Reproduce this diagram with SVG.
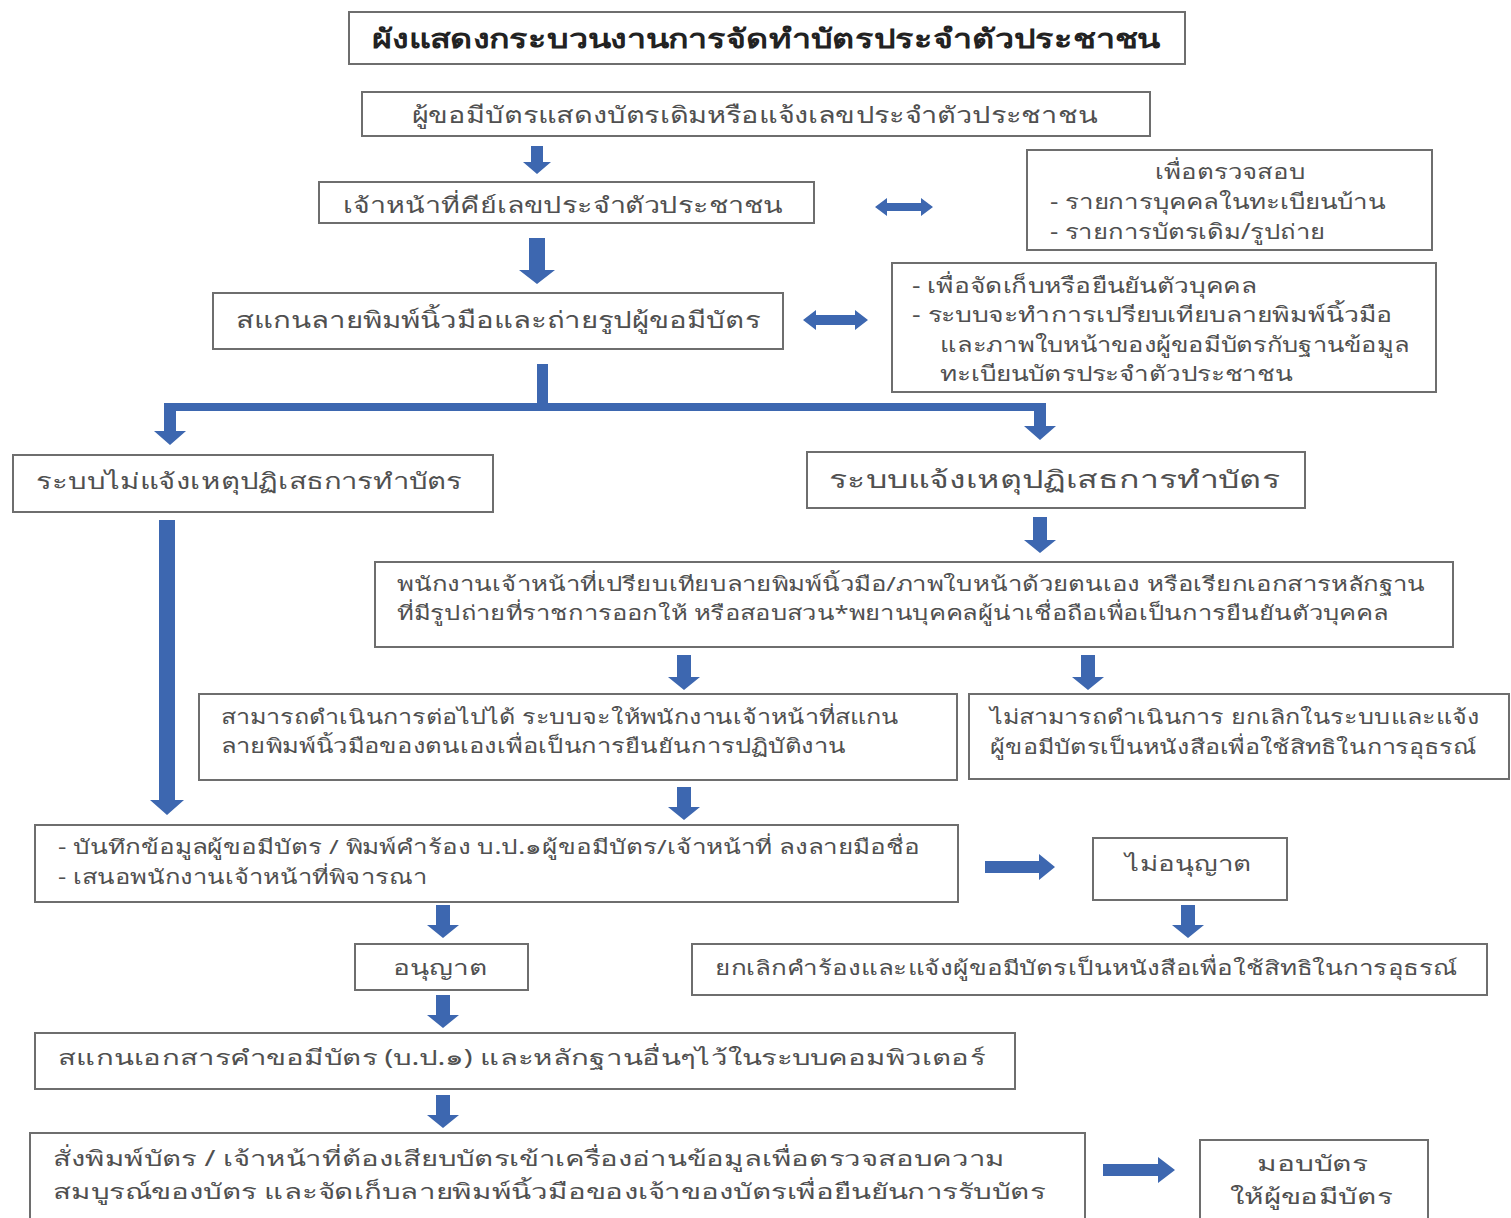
<svg xmlns="http://www.w3.org/2000/svg" width="1511" height="1218" viewBox="0 0 1511 1218">
<style>
.box{fill:#fff;stroke:#6e6e6e;stroke-width:2}
.t{font-family:"Noto Sans","DejaVu Sans",sans-serif;font-size:21px;fill:#505050}
.s{font-size:20px}
.title{font-size:27px;font-weight:bold;fill:#222}
.arr{fill:#3d67b0}
</style>
<rect width="1511" height="1218" fill="#fff"/>
<g id="n-title"><rect class="box" x="349" y="12" width="836" height="52"/><text class="t title" x="372" y="48" textLength="788" lengthAdjust="spacingAndGlyphs">ผังแสดงกระบวนงานการจัดทำบัตรประจำตัวประชาชน</text></g>
<g id="n-show"><rect class="box" x="362" y="92" width="788" height="44"/><text class="t" x="412" y="123" style="font-size:23px" textLength="686" lengthAdjust="spacingAndGlyphs">ผู้ขอมีบัตรแสดงบัตรเดิมหรือแจ้งเลขประจำตัวประชาชน</text></g>
<g id="n-key"><rect class="box" x="319" y="182" width="495" height="41"/><text class="t" x="343" y="213" style="font-size:22px" textLength="440" lengthAdjust="spacingAndGlyphs">เจ้าหน้าที่คีย์เลขประจำตัวประชาชน</text></g>
<g id="n-check"><rect class="box" x="1027" y="150" width="405" height="100"/><text class="t" x="1155" y="179" textLength="150" lengthAdjust="spacingAndGlyphs">เพื่อตรวจสอบ</text><text class="t" x="1050" y="209" textLength="335" lengthAdjust="spacingAndGlyphs">- รายการบุคคลในทะเบียนบ้าน</text><text class="t" x="1050" y="239" textLength="275" lengthAdjust="spacingAndGlyphs">- รายการบัตรเดิม/รูปถ่าย</text></g>
<g id="n-scan"><rect class="box" x="213" y="293" width="570" height="56"/><text class="t" x="236" y="328" style="font-size:23px" textLength="524" lengthAdjust="spacingAndGlyphs">สแกนลายพิมพ์นิ้วมือและถ่ายรูปผู้ขอมีบัตร</text></g>
<g id="n-verify"><rect class="box" x="892" y="263" width="544" height="129"/><text class="t" x="912" y="293" textLength="345" lengthAdjust="spacingAndGlyphs">- เพื่อจัดเก็บหรือยืนยันตัวบุคคล</text><text class="t" x="912" y="322" textLength="481" lengthAdjust="spacingAndGlyphs">- ระบบจะทำการเปรียบเทียบลายพิมพ์นิ้วมือ</text><text class="t" x="940" y="352" textLength="470" lengthAdjust="spacingAndGlyphs">และภาพใบหน้าของผู้ขอมีบัตรกับฐานข้อมูล</text><text class="t" x="940" y="381" textLength="352" lengthAdjust="spacingAndGlyphs">ทะเบียนบัตรประจำตัวประชาชน</text></g>
<g id="n-noreject"><rect class="box" x="13" y="455" width="480" height="57"/><text class="t" x="36" y="489" style="font-size:22px" textLength="426" lengthAdjust="spacingAndGlyphs">ระบบไม่แจ้งเหตุปฏิเสธการทำบัตร</text></g>
<g id="n-reject"><rect class="box" x="807" y="452" width="498" height="56"/><text class="t" x="829" y="488" style="font-size:24px" textLength="451" lengthAdjust="spacingAndGlyphs">ระบบแจ้งเหตุปฏิเสธการทำบัตร</text></g>
<g id="n-manual"><rect class="box" x="375" y="562" width="1078" height="85"/><text class="t s" x="397" y="591" textLength="1028" lengthAdjust="spacingAndGlyphs">พนักงานเจ้าหน้าที่เปรียบเทียบลายพิมพ์นิ้วมือ/ภาพใบหน้าด้วยตนเอง หรือเรียกเอกสารหลักฐาน</text><text class="t s" x="397" y="620" textLength="991" lengthAdjust="spacingAndGlyphs">ที่มีรูปถ่ายที่ราชการออกให้ หรือสอบสวน*พยานบุคคลผู้น่าเชื่อถือเพื่อเป็นการยืนยันตัวบุคคล</text></g>
<g id="n-ok"><rect class="box" x="199" y="694" width="758" height="86"/><text class="t s" x="221" y="724" textLength="678" lengthAdjust="spacingAndGlyphs">สามารถดำเนินการต่อไปได้ ระบบจะให้พนักงานเจ้าหน้าที่สแกน</text><text class="t s" x="221" y="753" textLength="625" lengthAdjust="spacingAndGlyphs">ลายพิมพ์นิ้วมือของตนเองเพื่อเป็นการยืนยันการปฏิบัติงาน</text></g>
<g id="n-fail"><rect class="box" x="969" y="694" width="540" height="85"/><text class="t s" x="990" y="724" textLength="490" lengthAdjust="spacingAndGlyphs">ไม่สามารถดำเนินการ ยกเลิกในระบบและแจ้ง</text><text class="t s" x="990" y="754" textLength="487" lengthAdjust="spacingAndGlyphs">ผู้ขอมีบัตรเป็นหนังสือเพื่อใช้สิทธิในการอุธรณ์</text></g>
<g id="n-record"><rect class="box" x="35" y="825" width="923" height="77"/><text class="t s" x="58" y="854" textLength="862" lengthAdjust="spacingAndGlyphs">- บันทึกข้อมูลผู้ขอมีบัตร / พิมพ์คำร้อง บ.ป.๑ผู้ขอมีบัตร/เจ้าหน้าที่ ลงลายมือชื่อ</text><text class="t s" x="58" y="884" textLength="369" lengthAdjust="spacingAndGlyphs">- เสนอพนักงานเจ้าหน้าที่พิจารณา</text></g>
<g id="n-deny"><rect class="box" x="1093" y="838" width="194" height="62"/><text class="t" x="1125" y="871" textLength="127" lengthAdjust="spacingAndGlyphs">ไม่อนุญาต</text></g>
<g id="n-cancel"><rect class="box" x="692" y="944" width="795" height="51"/><text class="t s" x="715" y="975" textLength="743" lengthAdjust="spacingAndGlyphs">ยกเลิกคำร้องและแจ้งผู้ขอมีบัตรเป็นหนังสือเพื่อใช้สิทธิในการอุธรณ์</text></g>
<g id="n-allow"><rect class="box" x="355" y="944" width="173" height="46"/><text class="t" x="393" y="975" textLength="95" lengthAdjust="spacingAndGlyphs">อนุญาต</text></g>
<g id="n-scandoc"><rect class="box" x="35" y="1033" width="980" height="56"/><text class="t" x="58" y="1065" textLength="927" lengthAdjust="spacingAndGlyphs">สแกนเอกสารคำขอมีบัตร (บ.ป.๑) และหลักฐานอื่นๆไว้ในระบบคอมพิวเตอร์</text></g>
<g id="n-print"><rect class="box" x="30" y="1133" width="1055" height="90"/><text class="t" x="53" y="1166" textLength="952" lengthAdjust="spacingAndGlyphs">สั่งพิมพ์บัตร / เจ้าหน้าที่ต้องเสียบบัตรเข้าเครื่องอ่านข้อมูลเพื่อตรวจสอบความ</text><text class="t" x="53" y="1199" textLength="992" lengthAdjust="spacingAndGlyphs">สมบูรณ์ของบัตร และจัดเก็บลายพิมพ์นิ้วมือของเจ้าของบัตรเพื่อยืนยันการรับบัตร</text></g>
<g id="n-give"><rect class="box" x="1200" y="1140" width="228" height="83"/><text class="t" x="1257" y="1171" textLength="111" lengthAdjust="spacingAndGlyphs">มอบบัตร</text><text class="t" x="1230" y="1204" textLength="162" lengthAdjust="spacingAndGlyphs">ให้ผู้ขอมีบัตร</text></g>
<g id="connectors">
<polygon class="arr" points="531,146 543,146 543,162 551,162 537,174 523,162 531,162"/>
<polygon class="arr" points="529,238 545,238 545,270 555,270 537,284 519,270 529,270"/>
<polygon class="arr" points="875,207 887,198 887,203 921,203 921,198 933,207 921,216 921,211 887,211 887,216"/>
<polygon class="arr" points="803,320 816,310 816,315 855,315 855,310 868,320 855,330 855,325 816,325 816,330"/>
<rect class="arr" x="537" y="364" width="11" height="44"/>
<rect class="arr" x="164" y="403" width="882" height="8"/>
<polygon class="arr" points="164,403 176,403 176,431 186,431 170,445 154,431 164,431"/>
<polygon class="arr" points="1034,403 1046,403 1046,426 1056,426 1040,440 1024,426 1034,426"/>
<polygon class="arr" points="159,520 175,520 175,800 184,800 167,815 150,800 159,800"/>
<polygon class="arr" points="1033,517 1047,517 1047,540 1056,540 1040,553 1024,540 1033,540"/>
<polygon class="arr" points="677,655 691,655 691,677 700,677 684,690 668,677 677,677"/>
<polygon class="arr" points="1081,655 1095,655 1095,677 1104,677 1088,690 1072,677 1081,677"/>
<polygon class="arr" points="677,787 691,787 691,807 700,807 684,820 668,807 677,807"/>
<polygon class="arr" points="985,861 1039,861 1039,854 1055,867 1039,880 1039,873 985,873"/>
<polygon class="arr" points="1181,905 1195,905 1195,925 1204,925 1188,938 1172,925 1181,925"/>
<polygon class="arr" points="436,905 450,905 450,925 459,925 443,938 427,925 436,925"/>
<polygon class="arr" points="436,995 450,995 450,1015 459,1015 443,1028 427,1015 436,1015"/>
<polygon class="arr" points="436,1095 450,1095 450,1115 459,1115 443,1128 427,1115 436,1115"/>
<polygon class="arr" points="1103,1164 1158,1164 1158,1157 1175,1170 1158,1183 1158,1176 1103,1176"/>
</g>
</svg>
